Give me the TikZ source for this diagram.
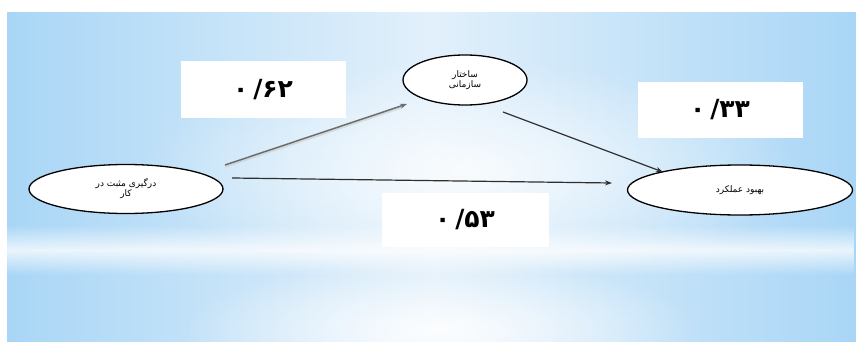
\documentclass[tikz,border=0pt]{standalone}
\usepackage{fontspec}
\TeXXeTstate=1
\newfontfamily\arabicfont[Script=Arabic]{DejaVu Sans}
\usetikzlibrary{arrows.meta,calc,fadings,shapes.geometric}
\definecolor{bgblue}{HTML}{A9D6F6}
\definecolor{bgmid}{HTML}{E2F0FB}
\definecolor{arrowdark}{HTML}{2E2E2E}
\definecolor{arrowgray}{HTML}{6E6E6E}
\tikzfading[name=glowfade, inner color=transparent!0, outer color=transparent!100]
\tikzfading[name=bandfade, top color=transparent!100, bottom color=transparent!100, middle color=transparent!0]
\newcommand\coefnum[3]{\mbox{۰}\hspace{5pt}\mbox{/}\mbox{#1}\mbox{#2}#3}
\tikzset{
  concept/.style={draw=black, line width=1.3pt, fill=white, ellipse, inner sep=0pt,
    align=center, font=\arabicfont\fontsize{9}{13}\selectfont},
  coef/.style={fill=white, inner sep=0pt, font=\arabicfont\bfseries\fontsize{25}{30}\selectfont},
  link/.style={draw=arrowdark, line width=1.2pt, -{Stealth[length=7pt,width=5pt]}},
  grayarrow/.style={draw=arrowgray, line width=1.5pt, -{Stealth[length=7pt,width=5pt]}},
}
\begin{document}
\begin{tikzpicture}[x=1pt,y=-1pt]
\useasboundingbox (0,0) rectangle (856,342);
\fill[white] (0,0) rectangle (856,342);
% background
\shade[left color=bgblue, right color=bgblue, middle color=bgmid] (7,13) rectangle (856,342);
\fill[white, path fading=glowfade, opacity=0.8] (470,170) ellipse (330 and 110);
\fill[white, path fading=bandfade, opacity=0.75] (7,225) rectangle (856,275);
\fill[white, path fading=glowfade, opacity=0.9] (440,330) ellipse (260 and 70);

% concepts
\node[concept, minimum width=194pt, minimum height=49pt] (a) at (126,189)
  {\beginR درگیری مثبت در\endR\\[-3pt]\beginR کار\endR};
\node[concept, minimum width=124pt, minimum height=50pt] (b) at (465,80)
  {\beginR ساختار\endR\\[-3pt]\beginR سازمانی\endR};
\node[concept, minimum width=225pt, minimum height=50pt] (c) at (740,190)
  {\beginR بهبود عملکرد\endR};

% coefficient boxes
\node[coef, minimum width=165pt, minimum height=57pt] (l1) at (263,89.5) {\coefnum{۶}{۲}{}};
\node[coef, minimum width=165pt, minimum height=55pt] (l2) at (720,110) {\coefnum{۳}{۳}{}};
\node[coef, minimum width=167pt, minimum height=54pt] (l3) at (465,220) {\coefnum{۵}{۳}{}};

% connectors
\coordinate (a1) at ($(a.center)+(99,-24)$);
\coordinate (b1) at ($(b.center)+(-58,24)$);
\coordinate (a2) at ($(a.center)+(106,-11)$);
\coordinate (c2) at ($(c.center)+(-128,-7)$);
\coordinate (b3) at ($(b.center)+(38,32)$);
\coordinate (c3) at ($(c.center)+(-77,-18)$);
\draw[draw=gray!40, line width=2.6pt, opacity=0.6] ($(a1)+(0,1.5)$) -- ($(b1)+(-6,3.5)$);
\draw[grayarrow] (a1) -- (b1);
\draw[link] (a2) -- (c2);
\draw[link] (b3) -- (c3);
\end{tikzpicture}
\end{document}
